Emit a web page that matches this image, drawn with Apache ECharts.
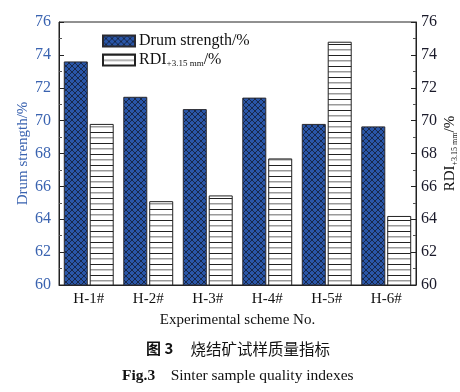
<!DOCTYPE html>
<html><head><meta charset="utf-8">
<script src="https://cdn.jsdelivr.net/npm/echarts@6/dist/echarts.min.js"></script>
<style>html,body{margin:0;padding:0;background:#fff}#c{width:460px;height:392px}</style>
</head><body><div id="c"></div>
<script>
const categories = ['H-1#','H-2#','H-3#','H-4#','H-5#','H-6#'];
const drumStrength = [73.6, 71.45, 70.7, 71.4, 69.8, 69.65];
const rdi = [69.8, 65.1, 65.45, 67.7, 74.8, 64.2];
const yTicks = [60, 62, 64, 66, 68, 70, 72, 74, 76];

function crossPattern(){
  const c = document.createElement('canvas'); c.width = 6; c.height = 6;
  const g = c.getContext('2d');
  g.fillStyle = '#2a56a8'; g.fillRect(0,0,6,6);
  g.strokeStyle = '#15233f'; g.lineWidth = 0.9;
  g.beginPath();
  g.moveTo(0,0); g.lineTo(6,6);
  g.moveTo(6,0); g.lineTo(0,6);
  g.moveTo(-3,3); g.lineTo(3,9); g.moveTo(3,-3); g.lineTo(9,3);
  g.moveTo(3,-3); g.lineTo(-3,3); g.moveTo(9,3); g.lineTo(3,9);
  g.stroke();
  return c;
}
function hPattern(){
  const c = document.createElement('canvas'); c.width = 8; c.height = 11;
  const g = c.getContext('2d');
  g.fillStyle = '#ffffff'; g.fillRect(0,0,8,11);
  g.fillStyle = '#222222'; g.fillRect(0,0,8,1);
  g.fillStyle = '#9a9a9a'; g.fillRect(0,5,8,1.5);
  return c;
}

const serif = '"Liberation Serif", "DejaVu Serif", serif';
const blue = '#3a63b0';
const chart = echarts.init(document.getElementById('c'));
chart.setOption({
  animation: false,
  textStyle: {fontFamily: serif},
  grid: {left: 59, right: 44, top: 22, bottom: 107, show: true, borderColor: '#222', borderWidth: 1,
    outerBoundsMode: 'none', containLabel: false},
  legend: {
    left: 97, top: 28, orient: 'vertical', itemWidth: 32, itemHeight: 11, itemGap: 3,
    icon: 'rect',
    textStyle: {fontFamily: serif, fontSize: 16, color: '#111', padding: [0,0,0,-1], rich: {
      s: {fontSize: 9, padding: [8,0,0,0], fontFamily: serif, color: '#111'},
      n: {fontSize: 16, fontFamily: serif, color: '#111'}
    }},
    formatter: function(n){ return n === 'RDI' ? '{n|RDI}{s|+3.15 mm}{n|/%}' : n; },
    data: ['Drum strength/%', 'RDI']
  },
  xAxis: {
    type: 'category', data: categories,
    axisLine: {lineStyle: {color: '#222'}}, axisTick: {show: false},
    axisLabel: {fontFamily: serif, fontSize: 15, color: '#111', margin: 7},
    name: 'Experimental scheme No.', nameLocation: 'middle', nameGap: 28,
    nameMoveOverlap: false,
    nameTextStyle: {fontFamily: serif, fontSize: 15, color: '#111'}
  },
  yAxis: [{
    type: 'value', min: 60, max: 76, interval: 2, position: 'left',
    axisLine: {show: true, lineStyle: {color: '#222'}},
    axisTick: {show: true, inside: true, length: 5, lineStyle: {color: '#222'}},
    minorTick: {show: true, splitNumber: 2, length: 3, lineStyle: {color: '#555'}},
    splitLine: {show: false},
    axisLabel: {fontFamily: serif, fontSize: 16, color: blue, margin: 8,
      formatter: v => yTicks.includes(v) ? String(v) : ''},
    name: 'Drum strength/%', nameLocation: 'middle', nameGap: 28, nameRotate: 90,
    nameMoveOverlap: false,
    nameTextStyle: {fontFamily: serif, fontSize: 15, color: blue}
  },{
    type: 'value', min: 60, max: 76, interval: 2, position: 'right',
    axisLine: {show: true, lineStyle: {color: '#222'}},
    axisTick: {show: true, inside: true, length: 5, lineStyle: {color: '#222'}},
    minorTick: {show: true, splitNumber: 2, length: 3, lineStyle: {color: '#555'}},
    splitLine: {show: false},
    axisLabel: {fontFamily: serif, fontSize: 16, color: '#1a1a2a', margin: 5,
      formatter: v => yTicks.includes(v) ? String(v) : ''},
    name: '{n|RDI}{s|+3.15 mm}{n|/%}', nameLocation: 'middle', nameGap: 26, nameRotate: 90,
    nameMoveOverlap: false,
    nameTextStyle: {fontFamily: serif, fontSize: 15, color: '#111', rich: {
      n: {fontFamily: serif, fontSize: 15, color: '#111'},
      s: {fontFamily: serif, fontSize: 8, color: '#111', padding: [9,0,0,0]}
    }}
  }],
  series: [{
    name: 'Drum strength/%', type: 'bar', yAxisIndex: 0, data: drumStrength,
    barWidth: 24, barGap: '8%',
    itemStyle: {color: {image: crossPattern(), repeat: 'repeat'}, borderColor: '#2a2a30', borderWidth: 1}
  },{
    name: 'RDI', type: 'bar', yAxisIndex: 1, data: rdi,
    barWidth: 24, barGap: '8%',
    itemStyle: {color: {image: hPattern(), repeat: 'repeat'}, borderColor: '#222', borderWidth: 1}
  }],
  graphic: [{
    type: 'text', left: 146, top: 341,
    style: {text: '{b|图 3}{c|     烧结矿试样质量指标}', rich: {
      b: {fontFamily: '"Noto Sans CJK SC", sans-serif', fontWeight: 'bold', fontSize: 15, fill: '#111'},
      c: {fontFamily: '"Noto Sans CJK SC", sans-serif', fontSize: 15.5, fill: '#111'}
    }}
  },{
    type: 'text', left: 122, top: 368,
    style: {text: '{b|Fig.3}{c|    Sinter sample quality indexes}', rich: {
      b: {fontFamily: serif, fontWeight: 'bold', fontSize: 15.5, fill: '#111'},
      c: {fontFamily: serif, fontSize: 15.5, fill: '#111'}
    }}
  }]
});
</script></body></html>
